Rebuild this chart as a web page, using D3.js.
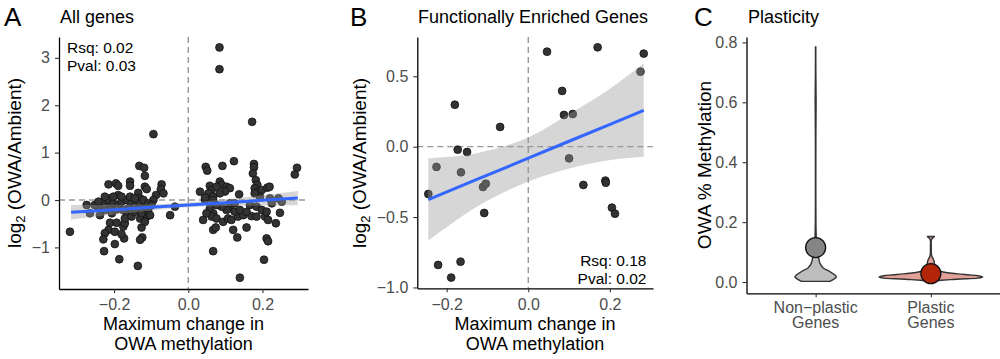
<!DOCTYPE html>
<html><head><meta charset="utf-8">
<script src="https://cdn.jsdelivr.net/npm/d3@7"></script>
<style>body{margin:0;background:#fff;} svg{display:block;} text{font-family:"Liberation Sans",Arial,Helvetica,sans-serif;}</style>
</head><body>
<svg id="chart" width="1000" height="359"></svg>
<script>
// ---------------- DATA ----------------
// Panel A: all genes (x = max change in OWA methylation, y = log2 OWA/Ambient)
const allGenes = [
 [0.084,3.22],[0.084,2.76],[0.172,1.65],[-0.094,1.39],
 [-0.132,0.72],[-0.119,0.68],[-0.117,0.51],[-0.215,0.33],[-0.195,0.35],[-0.189,0.30],[-0.157,0.39],[-0.157,0.30],
 [-0.117,0.28],[-0.112,0.23],[-0.072,0.33],[-0.074,0.23],[-0.087,0.105],[-0.094,0.0],[-0.067,0.14],[-0.189,0.105],
 [-0.211,0.035],[-0.135,0.15],[-0.13,0.035],[-0.274,-0.105],[-0.243,-0.14],[-0.238,-0.32],[-0.265,-0.28],[-0.049,-0.32],
 [-0.036,-0.14],[-0.319,-0.67],[-0.211,-0.48],[-0.193,-0.48],[-0.215,-0.63],[-0.225,-0.70],[-0.229,-0.83],[-0.198,-0.67],
 [-0.175,-0.56],[-0.171,-0.49],[-0.173,-0.81],[-0.18,-0.72],[-0.198,-0.93],[-0.227,-1.08],[-0.124,-0.79],[-0.13,-0.84],
 [-0.126,-0.58],[-0.186,-1.25],[-0.136,-1.39],[-0.166,-0.32],[-0.171,-0.39],[-0.153,-0.35],[-0.112,-0.35],[-0.108,-0.21],
 [-0.103,-0.32],[-0.13,-0.39],[-0.117,-0.46],[-0.206,-0.28],[-0.211,-0.14],
 [-0.229,-0.035],[-0.216,0],[-0.202,-0.07],[-0.189,-0.105],[-0.180,-0.035],[-0.166,0],[-0.153,-0.07],[-0.144,-0.14],
 [-0.130,-0.07],[-0.121,-0.176],[-0.162,-0.176],[-0.175,-0.21],[-0.193,-0.197],[-0.225,-0.21],[-0.144,-0.246],[-0.126,-0.28],
 [-0.157,0.07],[-0.180,0.07],[-0.202,0.07],[-0.225,0.07],[-0.144,0.035],[-0.121,0],[-0.108,-0.07],[-0.099,-0.105],
 [-0.252,-0.105],[-0.242,-0.035],
 [0.047,0.70],[0.051,0.62],[0.092,0.72],[0.123,0.82],[0.177,0.76],[0.177,0.69],[0.174,0.56],[0.182,0.42],[0.186,0.32],
 [0.179,0.25],[0.293,0.68],[0.287,0.54],[0.0315,0.176],[0.058,0.30],[0.063,0.21],[0.054,0.14],[0.085,0.39],[0.090,0.32],
 [0.076,0.28],[0.103,0.28],[0.112,0.25],[0.099,0.18],[0.085,0.14],[0.137,0.12],[0.067,0.07],[0.067,0],[0.045,0],[0.045,0.05],
 [0.189,0.18],[0.198,0.21],[0.213,0.26],[0.219,0.28],[0.193,0.07],[0.179,0.14],[0.22,0.035],[0.243,0.035],[0.225,-0.07],
 [0.040,-0.42],[0.067,-0.28],[0.063,-0.35],[0.076,-0.39],[0.067,-0.63],[0.074,-0.58],[0.094,-0.46],[0.107,-0.39],[0.116,-0.42],
 [0.121,-0.63],[0.132,-0.79],[0.134,-0.35],[0.148,-0.32],[0.157,-0.58],[0.170,-0.34],[0.184,-0.35],[0.207,-0.35],[0.215,-0.42],
 [0.236,-0.49],[0.247,-0.27],[0.211,-0.81],[0.215,-0.87],[0.067,-1.08],[0.204,-1.26],[0.139,-1.64],[0.112,-0.176],[0.125,-0.246],
 [0.139,-0.21],[0.157,-0.25],[0.103,-0.21],[0.090,-0.14],[0.112,-0.07],[0.125,-0.07],[0.166,-0.105],[0.184,-0.14],[0.198,-0.21],
 [0.211,-0.246],[0.076,-0.105],[0.058,-0.176],[0.049,-0.28],[0.252,-0.035]
];
const fitAx  = [-0.316, -0.2, -0.1, 0, 0.1, 0.2, 0.295];
const fitAy  = [-0.260, -0.203, -0.154, -0.105, -0.056, -0.007, 0.040];
const fitAlo = [-0.411, -0.305, -0.219, -0.155, -0.128, -0.117, -0.111];
const fitAhi = [-0.109, -0.101, -0.089, -0.055, 0.016, 0.103, 0.191];
const statsA = ["Rsq: 0.02", "Pval: 0.03"];

// Panel B: functionally enriched genes
const enrichedGenes = [
 [0.046,0.675],[0.170,0.706],[0.283,0.661],[0.275,0.533],[0.083,0.396],[0.0875,0.225],[0.109,0.232],
 [-0.180,0.298],[-0.069,0.140],[-0.173,-0.021],[-0.150,-0.038],[-0.225,-0.144],[-0.165,-0.182],[-0.111,-0.286],
 [-0.104,-0.263],[-0.245,-0.336],[-0.108,-0.471],[0.100,-0.083],[0.135,-0.272],[0.189,-0.241],[0.190,-0.256],
 [0.205,-0.433],[0.2125,-0.476],[-0.221,-0.840],[-0.166,-0.817],[-0.189,-0.930]
];
const fitBx  = [-0.245, -0.126, 0, 0.103, 0.202, 0.283];
const fitBy  = [-0.376, -0.233, -0.082, 0.042, 0.160, 0.258];
const fitBlo = [-0.667, -0.426, -0.248, -0.153, -0.094, -0.071];
const fitBhi = [-0.083, -0.047, 0.066, 0.237, 0.415, 0.592];
const statsB = ["Rsq: 0.18", "Pval: 0.02"];

// Panel C: violin density profiles (y = OWA % methylation, d = relative density)
const plasticityCats = ["Non\u2212plastic|Genes", "Plastic|Genes"];
const nonPlasticY = [0.002, 0.008, 0.017, 0.024, 0.035, 0.047, 0.063, 0.081, 0.1, 0.15, 0.2, 0.3, 0.4, 0.5, 0.6, 0.7, 0.785];
const nonPlasticD = [0.272, 0.337, 0.40, 0.368, 0.272, 0.147, 0.082, 0.057, 0.03, 0.012, 0.006, 0.004, 0.004, 0.005, 0.009, 0.004, 0.003];
const plasticY = [0.004, 0.006, 0.008, 0.010, 0.013, 0.017, 0.021, 0.024, 0.027, 0.031, 0.035, 0.045, 0.055, 0.065, 0.075, 0.085, 0.095, 0.12, 0.14, 0.146, 0.150, 0.152];
const plasticD = [0.05, 0.2, 0.38, 0.58, 0.91, 1.0, 0.91, 0.72, 0.53, 0.33, 0.2, 0.1, 0.07, 0.067, 0.05, 0.02, 0.01, 0.008, 0.01, 0.03, 0.06, 0.064];
const plasticityMeans = [0.115, 0.028];

const ticksAx = [-0.2, 0, 0.2], ticksAy = [-1, 0, 1, 2, 3];
const ticksBx = [-0.2, 0, 0.2], ticksBy = [-1, -0.5, 0, 0.5];
const ticksCy = [0, 0.2, 0.4, 0.6, 0.8];

// ---------------- DRAW ----------------
const svg = d3.select("#chart");
const FONT = '"Liberation Sans",Arial,Helvetica,sans-serif';

function styleAxis(g){
  g.attr("font-family", FONT).attr("font-size", 16);
  g.select(".domain").attr("stroke", "#000").attr("stroke-width", 1.3);
  g.selectAll(".tick line").attr("stroke", "#333").attr("stroke-width", 1.1);
  g.selectAll(".tick text").attr("fill", "#4d4d4d");
}

function yTitle(x, y, parts){
  const t = svg.append("text").attr("transform", `translate(${x},${y}) rotate(-90)`)
    .attr("text-anchor", "middle").attr("font-size", 19).attr("fill", "#000");
  parts(t);
}
function logTitle(t){
  t.append("tspan").text("log");
  t.append("tspan").attr("font-size", 13).attr("dy", 4).text("2");
  t.append("tspan").attr("dy", -4).text("\u00a0(OWA/Ambient)");
}

function scatterPanel(opts){
  const {x, y, data, fx, fy, flo, fhi, xt, yt, yfmt} = opts;
  const [x0, x1] = x.range(), [y0, y1] = y.range();
  const g = svg.append("g");
  g.append("line").attr("x1", x(0)).attr("x2", x(0)).attr("y1", y1).attr("y2", y0)
    .attr("stroke", "#999").attr("stroke-width", 1.4).attr("stroke-dasharray", "6,4");
  g.append("line").attr("x1", x0).attr("x2", x1).attr("y1", y(0)).attr("y2", y(0))
    .attr("stroke", "#999").attr("stroke-width", 1.4).attr("stroke-dasharray", "6,4");
  g.selectAll("circle.pt").data(data).join("circle").attr("class", "pt")
    .attr("cx", d => x(d[0])).attr("cy", d => y(d[1])).attr("r", 3.9)
    .attr("fill", "#333").attr("stroke", "#111").attr("stroke-width", 0.8);
  const band = fx.map((v, i) => ({x: v, lo: flo[i], hi: fhi[i], y: fy[i]}));
  g.append("path").datum(band)
    .attr("d", d3.area().x(d => x(d.x)).y0(d => y(d.lo)).y1(d => y(d.hi)).curve(d3.curveCatmullRom))
    .attr("fill", "#999").attr("fill-opacity", 0.4);
  g.append("path").datum(band)
    .attr("d", d3.line().x(d => x(d.x)).y(d => y(d.y)))
    .attr("fill", "none").attr("stroke", "#3366FF").attr("stroke-width", 3);
  svg.append("g").attr("transform", `translate(0,${y0})`)
    .call(d3.axisBottom(x).tickValues(xt).tickFormat(d3.format(".1f")).tickSize(4).tickSizeOuter(0).tickPadding(6))
    .call(styleAxis);
  svg.append("g").attr("transform", `translate(${x0},0)`)
    .call(d3.axisLeft(y).tickValues(yt).tickFormat(d3.format(yfmt)).tickSize(4).tickSizeOuter(0).tickPadding(5))
    .call(styleAxis);
}

function text(x, y, s, size, anchor, fill){
  return svg.append("text").attr("x", x).attr("y", y).attr("font-size", size)
    .attr("text-anchor", anchor || "start").attr("fill", fill || "#000").text(s);
}
function twoLine(x, y, lines, gap, size, anchor, fill){
  const t = svg.append("text").attr("x", x).attr("y", y).attr("font-size", size)
    .attr("text-anchor", anchor || "start").attr("fill", fill || "#000");
  lines.forEach((s, i) => t.append("tspan").attr("x", x).attr("dy", i ? gap : 0).text(s));
  return t;
}

// Panel A
const xA = d3.scaleLinear().domain([-0.3485, 0.3226]).range([59, 308]);
const yA = d3.scaleLinear().domain([-1.878, 3.44]).range([289, 37]);
scatterPanel({x: xA, y: yA, data: allGenes, fx: fitAx, fy: fitAy, flo: fitAlo, fhi: fitAhi, xt: ticksAx, yt: ticksAy, yfmt: "d"});
twoLine(67, 53, statsA, 18, 15.5);
text(4, 26, "A", 26);
text(60, 23, "All genes", 18);
twoLine(183.5, 329.5, ["Maximum change in", "OWA methylation"], 20, 18, "middle");
yTitle(21, 163, logTitle);

// Panel B
const xB = d3.scaleLinear().domain([-0.272, 0.3057]).range([417.3, 653]);
const yB = d3.scaleLinear().domain([-1.006, 0.779]).range([288.3, 37]);
scatterPanel({x: xB, y: yB, data: enrichedGenes, fx: fitBx, fy: fitBy, flo: fitBlo, fhi: fitBhi, xt: ticksBx, yt: ticksBy, yfmt: ".1f"});
twoLine(646.5, 265.5, statsB, 18, 15.5, "end");
text(350, 26, "B", 26);
text(418, 23, "Functionally Enriched Genes", 18);
twoLine(535, 330, ["Maximum change in", "OWA methylation"], 19.5, 18, "middle");
yTitle(366, 163, logTitle);

// Panel C
const xC = d3.scalePoint().domain(plasticityCats).range([746.5, 1000]).padding(0.6);
const yC = d3.scaleLinear().domain([-0.0377, 0.818]).range([293.3, 37]);
const halfW = 0.45 * xC.step();
const violins = [
  {cat: plasticityCats[0], ys: nonPlasticY, ds: nonPlasticD, fill: "#BDBDBD", mfill: "#858585", mean: plasticityMeans[0]},
  {cat: plasticityCats[1], ys: plasticY, ds: plasticD, fill: "#E2A198", mfill: "#B32507", mean: plasticityMeans[1]}
];
violins.forEach(v => {
  const cx = xC(v.cat);
  const pts = v.ys.map((yy, i) => ({y: yy, d: v.ds[i]}));
  svg.append("path").datum(pts)
    .attr("d", d3.area().y(d => yC(d.y)).x0(d => cx - d.d * halfW).x1(d => cx + d.d * halfW).curve(d3.curveCatmullRom))
    .attr("fill", v.fill).attr("stroke", "#333").attr("stroke-width", 1.4);
  svg.append("circle").attr("cx", cx).attr("cy", yC(v.mean)).attr("r", 10)
    .attr("fill", v.mfill).attr("stroke", "#111").attr("stroke-width", 1.3);
});
svg.append("g").attr("transform", `translate(0,293.3)`)
  .call(d3.axisBottom(xC).tickFormat("").tickSize(4).tickSizeOuter(0))
  .call(styleAxis);
svg.append("g").attr("transform", `translate(746.5,0)`)
  .call(d3.axisLeft(yC).tickValues(ticksCy).tickFormat(d3.format(".1f")).tickSize(4).tickSizeOuter(0).tickPadding(5))
  .call(styleAxis);
plasticityCats.forEach(c => twoLine(xC(c), 312.7, c.split("|"), 15.3, 16, "middle", "#4d4d4d"));
text(694, 26, "C", 26);
text(748, 23, "Plasticity", 18);
yTitle(710.5, 165, t => t.text("OWA % Methylation"));
</script>
</body></html>
